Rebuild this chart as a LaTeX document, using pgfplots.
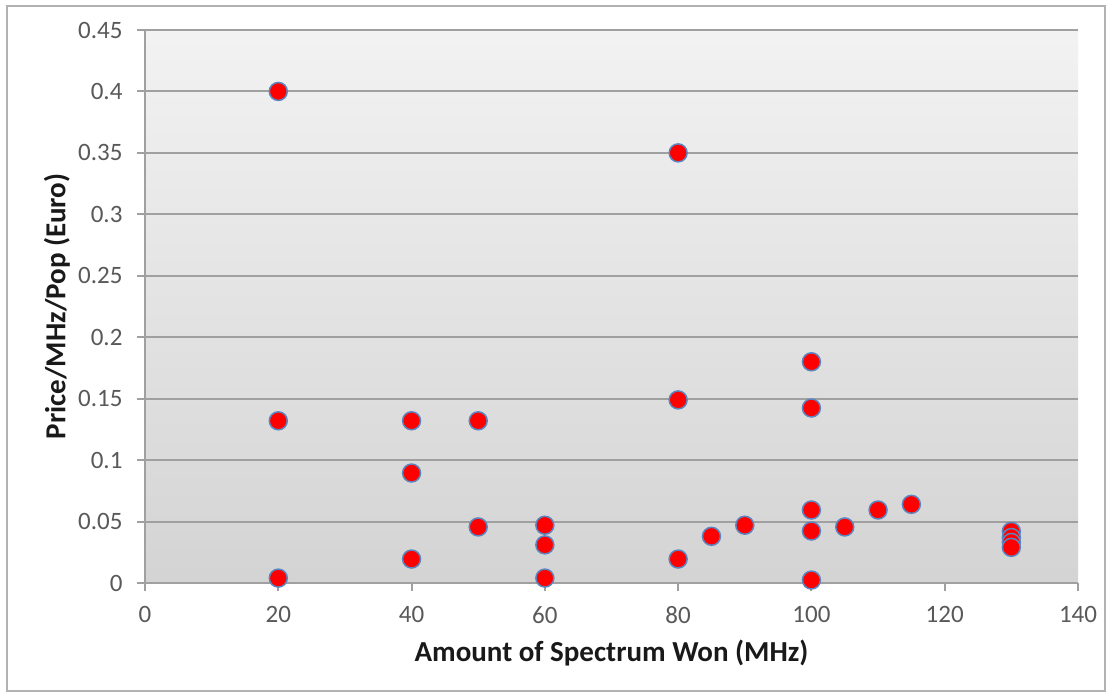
\documentclass[border=0pt]{standalone}
\usepackage{pgfplots}
\pgfplotsset{compat=1.18}
\usepackage{fontspec}
\setmainfont{Carlito}
\definecolor{gridc}{HTML}{A0A0A0}
\definecolor{tickc}{HTML}{595959}
\definecolor{mkedge}{HTML}{5B86C0}
\begin{document}
\begin{tikzpicture}[x=1pt,y=1pt]
\useasboundingbox (0,0) rectangle (1112,696);
\fill[white] (0,0) rectangle (1112,696);
\draw[color=gray!60, line width=1.5pt] (7,5) rectangle (1105,690);
\begin{axis}[
  at={(145pt,113pt)}, anchor=south west,
  scale only axis, width=933pt, height=553pt,
  xmin=0, xmax=140, ymin=0, ymax=0.45,
  axis x line*=bottom, axis y line*=left,
  axis line style={color=gridc, line width=2pt},
  xtick={0,20,40,60,80,100,120,140},
  xticklabels={0,20,40,60,80,100,120,140},
  ytick={0,0.05,0.1,0.15,0.2,0.25,0.3,0.35,0.4,0.45},
  yticklabels={0,0.05,0.1,0.15,0.2,0.25,0.3,0.35,0.4,0.45},
  tick align=outside, major tick length=8pt,
  tick style={color=gridc, line width=2pt},
  ticklabel style={font=\fontsize{25}{29}\selectfont, text=tickc},
  yticklabel style={xshift=-11pt},
  xticklabel style={yshift=-12pt},
  ymajorgrids, major grid style={color=gridc, line width=2pt},
  axis background/.style={top color=white!95!black, bottom color=white!83!black},
  xlabel={Amount of Spectrum Won (MHz)},
  ylabel={Price/MHz/Pop (Euro)},
  every axis x label/.style={at={(axis description cs:0.5,0)}, anchor=center, yshift=-70pt, font=\bfseries\fontsize{29}{34}\selectfont, text=black!90},
  every axis y label/.style={at={(axis description cs:0,0.5)}, rotate=90, anchor=center, yshift=88pt, font=\bfseries\fontsize{29}{34}\selectfont, text=black!90},
  clip=false,
]
\addplot[only marks, mark=*, mark size=9pt, mark options={fill=red, draw=mkedge, line width=1.5pt}] table {
x y
20 0.4
20 0.132
20 0.004
40 0.132
40 0.0895
40 0.0195
50 0.132
50 0.0456
60 0.047
60 0.031
60 0.004
80 0.35
80 0.149
80 0.0195
85 0.038
90 0.047
100 0.18
100 0.1424
100 0.0594
100 0.0423
100 0.0024
105 0.0456
110 0.0594
115 0.064
130 0.042
130 0.037
130 0.033
130 0.029
};
\end{axis}
\end{tikzpicture}
\end{document}
